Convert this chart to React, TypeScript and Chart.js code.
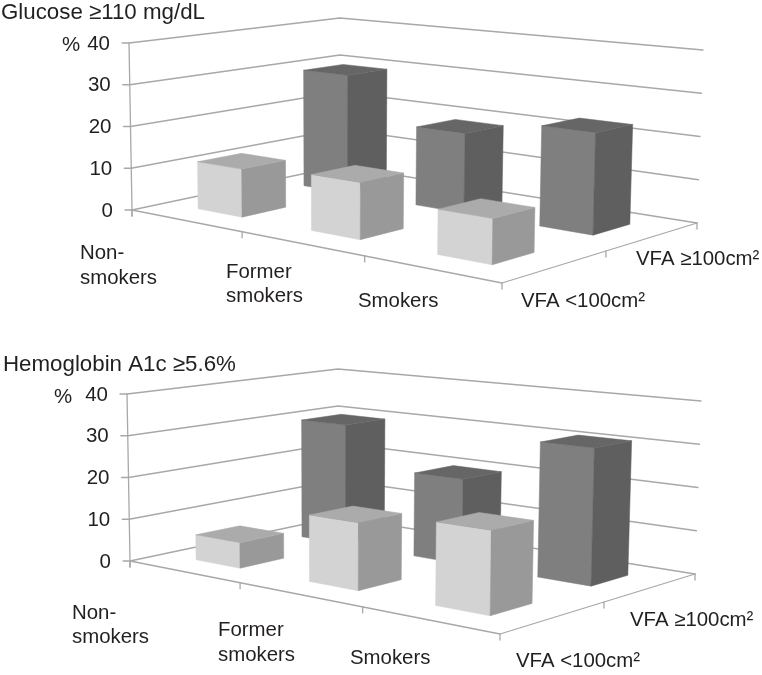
import React, { useEffect, useRef } from "react";
import { Chart, registerables } from "chart.js";

Chart.register(...registerables);

const categories = ["Non-smokers", "Former smokers", "Smokers"];
const seriesNames = ["VFA <100cm²", "VFA ≥100cm²"];
const glucoseLow = [11.3, 12.7, 9.7];
const glucoseHigh = [29.5, 18.9, 23];
const hba1cLow = [6, 15.1, 17.9];
const hba1cHigh = [29.8, 20.1, 31];
const yTicks = [0, 10, 20, 30, 40];

const FONT = '"Liberation Sans", Arial, sans-serif';
const TEXT = "#231f20";
const LINE = "#a8a8a8";

type Pt = [number, number];

// floor and top-of-wall corners for the first panel: [u,v] = (0,0),(1,0),(1,1),(0,1)
const FLOOR: Pt[] = [[132, 210], [502, 283], [697, 223], [340, 166]];
const ROOF: Pt[] = [[129, 43], [505, 84], [703, 50], [340, 18]];

function homography(q: Pt[], u: number, v: number): Pt {
  const [p0, p1, p2, p3] = q;
  const dx1 = p1[0] - p2[0], dx2 = p3[0] - p2[0], sx = p0[0] - p1[0] + p2[0] - p3[0];
  const dy1 = p1[1] - p2[1], dy2 = p3[1] - p2[1], sy = p0[1] - p1[1] + p2[1] - p3[1];
  const det = dx1 * dy2 - dx2 * dy1;
  const g = (sx * dy2 - dx2 * sy) / det;
  const h = (dx1 * sy - sx * dy1) / det;
  const w = 1 + g * u + h * v;
  return [
    (p0[0] + (p1[0] - p0[0] + g * p1[0]) * u + (p3[0] - p0[0] + h * p3[0]) * v) / w,
    (p0[1] + (p1[1] - p0[1] + g * p1[1]) * u + (p3[1] - p0[1] + h * p3[1]) * v) / w,
  ];
}

interface TextItem { t: string; x: number; y: number }

interface Panel {
  title: string;
  low: number[];
  high: number[];
  top: number;
  height: number;
  dx: number;
  dy: number;
  texts: TextItem[];
}

const panels: Panel[] = [
  {
    title: "Glucose ≥110 mg/dL",
    low: glucoseLow,
    high: glucoseHigh,
    top: 0,
    height: 330,
    dx: 0,
    dy: 0,
    texts: [
      { t: "Glucose ≥110 mg/dL", x: 1, y: 13 },
      { t: "%", x: 62, y: 45 },
      { t: "Non-", x: 80, y: 253 },
      { t: "smokers", x: 80, y: 278 },
      { t: "Former", x: 226, y: 272 },
      { t: "smokers", x: 226, y: 296 },
      { t: "Smokers", x: 358, y: 301 },
      { t: seriesNames[1], x: 636, y: 259 },
      { t: seriesNames[0], x: 521, y: 301 },
    ],
  },
  {
    title: "Hemoglobin A1c ≥5.6%",
    low: hba1cLow,
    high: hba1cHigh,
    top: 330,
    height: 345,
    dx: -2,
    dy: 351,
    texts: [
      { t: "Hemoglobin A1c ≥5.6%", x: 3, y: 365 },
      { t: "%", x: 54, y: 397 },
      { t: "Non-", x: 72, y: 613 },
      { t: "smokers", x: 72, y: 637 },
      { t: "Former", x: 218, y: 630 },
      { t: "smokers", x: 218, y: 655 },
      { t: "Smokers", x: 350, y: 658 },
      { t: seriesNames[1], x: 630, y: 620 },
      { t: seriesNames[0], x: 516, y: 661 },
    ],
  },
];

const LOW_COLORS = { front: "#d3d3d3", side: "#999999", top: "#ababab" };
const HIGH_COLORS = { front: "#7f7f7f", side: "#5f5f5f", top: "#666666" };

function PanelChart({ panel }: { panel: Panel }) {
  const ref = useRef<HTMLCanvasElement>(null);

  useEffect(() => {
    const off: Pt = [panel.dx, panel.dy - panel.top];
    const at = (base: Pt[], u: number, v: number): Pt => {
      const p = homography(base, u, v);
      return [p[0] + off[0], p[1] + off[1]];
    };
    const P = (u: number, v: number, h: number): Pt => {
      const f = at(FLOOR, u, v);
      const r = at(ROOF, u, v);
      return [f[0] + (r[0] - f[0]) * h, f[1] + (r[1] - f[1]) * h];
    };
    const poly = (ctx: CanvasRenderingContext2D, pts: Pt[], fill: string) => {
      ctx.beginPath();
      pts.forEach((p, i) => (i ? ctx.lineTo(p[0], p[1]) : ctx.moveTo(p[0], p[1])));
      ctx.closePath();
      ctx.fillStyle = fill;
      ctx.fill();
      ctx.strokeStyle = fill;
      ctx.lineWidth = 0.5;
      ctx.stroke();
    };
    const seg = (ctx: CanvasRenderingContext2D, pts: Pt[]) => {
      ctx.beginPath();
      pts.forEach((p, i) => (i ? ctx.lineTo(p[0], p[1]) : ctx.moveTo(p[0], p[1])));
      ctx.strokeStyle = LINE;
      ctx.lineWidth = 1.3;
      ctx.stroke();
    };

    const plugin = {
      id: "box3d",
      beforeDatasetsDraw(chart: any) {
        const { ctx, chartArea: a, scales } = chart;
        const ys = scales.y;
        ctx.save();
        ctx.lineCap = "round";
        ctx.lineJoin = "round";
        for (const t of ys.ticks) {
          const h = (a.bottom - ys.getPixelForValue(t.value)) / (a.bottom - a.top);
          const s = P(0, 0, h);
          seg(ctx, [[s[0] - 7, s[1]], s, P(0, 1, h), P(1, 1, h)]);
        }
        seg(ctx, [P(0, 0, 1), P(0, 0, 0), [P(0, 0, 0)[0], P(0, 0, 0)[1] + 6]]);
        seg(ctx, [P(0, 0, 0), P(1, 0, 0), P(1, 1, 0)]);
        const n = categories.length;
        for (let i = 0; i <= n; i++) {
          const p = P(i / n, 0, 0);
          seg(ctx, [p, [p[0], p[1] + 6]]);
        }
        for (let j = 1; j <= seriesNames.length; j++) {
          const p = P(1, j / seriesNames.length, 0);
          seg(ctx, [p, [p[0], p[1] + 6]]);
        }
        ctx.restore();
      },
      beforeDatasetDraw(chart: any, args: any) {
        const { ctx, chartArea: a } = chart;
        const meta = args.meta;
        const idx = args.index;
        const colors = idx === 0 ? LOW_COLORS : HIGH_COLORS;
        const vc = (idx + 0.5) / seriesNames.length;
        const vh = 0.1;
        const width = a.right - a.left;
        const height = a.bottom - a.top;
        ctx.save();
        for (const el of meta.data) {
          const uc = (el.x - a.left) / width;
          const uh = el.width / 2 / width;
          const h = (a.bottom - el.y) / height;
          const u0 = uc - uh, u1 = uc + uh, v0 = vc - vh, v1 = vc + vh;
          poly(ctx, [P(u0, v0, 0), P(u1, v0, 0), P(u1, v0, h), P(u0, v0, h)], colors.front);
          poly(ctx, [P(u1, v0, 0), P(u1, v1, 0), P(u1, v1, h), P(u1, v0, h)], colors.side);
          poly(ctx, [P(u0, v0, h), P(u1, v0, h), P(u1, v1, h), P(u0, v1, h)], colors.top);
        }
        ctx.restore();
        return false;
      },
      afterDraw(chart: any) {
        const { ctx, chartArea: a, scales } = chart;
        const ys = scales.y;
        ctx.save();
        ctx.fillStyle = TEXT;
        ctx.textBaseline = "middle";
        ctx.font = `20.5px ${FONT}`;
        ctx.textAlign = "right";
        for (const t of ys.ticks) {
          const h = (a.bottom - ys.getPixelForValue(t.value)) / (a.bottom - a.top);
          const s = P(0, 0, h);
          ctx.fillText(String(t.value), s[0] - 19, s[1] + 1);
        }
        ctx.textAlign = "left";
        panel.texts.forEach((item, i) => {
          ctx.font = i === 0 ? `22.3px ${FONT}` : `20.4px ${FONT}`;
          ctx.fillText(item.t, item.x, item.y - panel.top);
        });
        ctx.restore();
      },
    };

    const f0 = at(FLOOR, 0, 0);
    const f1 = at(FLOOR, 1, 0);
    const r0 = at(ROOF, 0, 0);

    const chart = new Chart(ref.current as HTMLCanvasElement, {
      type: "bar",
      data: {
        labels: categories,
        datasets: [
          { label: seriesNames[0], data: panel.low, grouped: false, barPercentage: 0.4, categoryPercentage: 1, backgroundColor: LOW_COLORS.front },
          { label: seriesNames[1], data: panel.high, grouped: false, barPercentage: 0.4, categoryPercentage: 1, backgroundColor: HIGH_COLORS.front },
        ],
      },
      options: {
        responsive: false,
        animation: false,
        layout: {
          padding: {
            left: f0[0],
            right: 762 - f1[0],
            top: r0[1],
            bottom: panel.height - f0[1],
          },
        },
        plugins: { legend: { display: false }, tooltip: { enabled: false } },
        scales: {
          x: { display: false, type: "category" },
          y: {
            display: false,
            type: "linear",
            min: yTicks[0],
            max: yTicks[yTicks.length - 1],
            afterBuildTicks: (s: any) => {
              s.ticks = yTicks.map((value) => ({ value }));
            },
          },
        },
      },
      plugins: [plugin],
    } as any);
    return () => chart.destroy();
  }, [panel]);

  return (
    <canvas
      ref={ref}
      width={762}
      height={panel.height}
      style={{ position: "absolute", left: 0, top: panel.top, width: 762, height: panel.height, display: "block" }}
    />
  );
}

export default function App() {
  return (
    <div style={{ position: "absolute", left: 0, top: 0, width: 762, height: 675, overflow: "hidden", background: "#fff" }}>
      {panels.map((p) => (
        <PanelChart key={p.title} panel={p} />
      ))}
    </div>
  );
}
